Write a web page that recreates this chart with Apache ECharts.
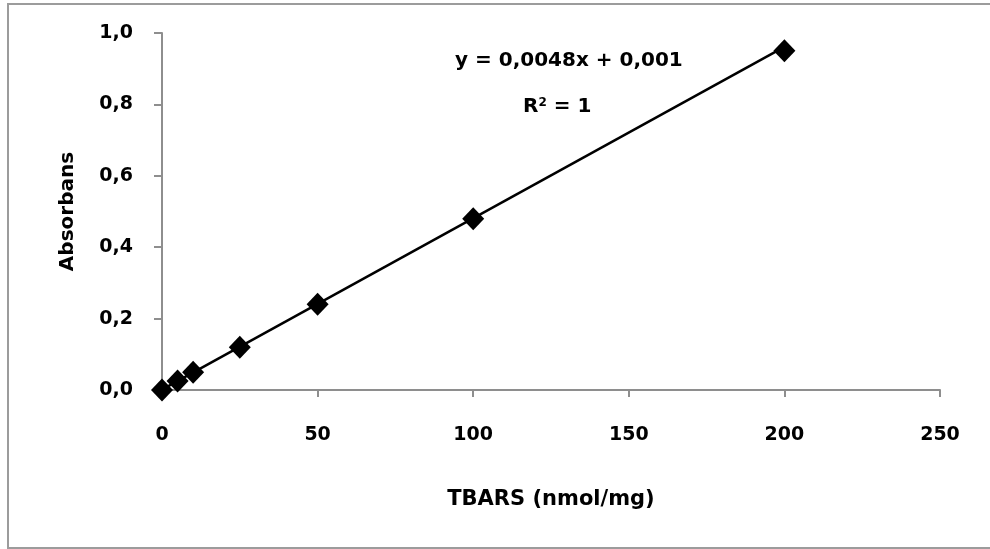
<!DOCTYPE html>
<html>
<head>
<meta charset="utf-8">
<script src="https://cdn.jsdelivr.net/npm/echarts@6/dist/echarts.min.js"></script>
<style>
  html, body { margin: 0; padding: 0; background: #ffffff; }
  #chart { width: 990px; height: 549px; }
</style>
</head>
<body>
<div id="chart"></div>
<script>
// Calibration standards: TBARS concentration vs measured absorbance
const concentrations = [0, 5, 10, 25, 50, 100, 200];
const absorbances = [0.0, 0.025, 0.05, 0.12, 0.24, 0.48, 0.95];

// Linear fit reported on the chart
const slope = 0.0048;
const intercept = 0.001;
const fitRange = [0, 200];
const equationText = 'y = 0,0048x + 0,001';
const r2Value = '1';

// Axis ticks
const xTicks = [0, 50, 100, 150, 200, 250];
const yTicks = [0.0, 0.2, 0.4, 0.6, 0.8, 1.0];

const FONT = '"DejaVu Sans", sans-serif';
const AXIS_GRAY = '#8e8e8e';

const points = concentrations.map((c, i) => [c, absorbances[i]]);
const fitLine = fitRange.map(x => [x, slope * x + intercept]);

const chart = echarts.init(document.getElementById('chart'));

chart.setOption({
  backgroundColor: '#ffffff',
  animation: false,
  grid: { left: 162, right: 50, top: 33, bottom: 159 },
  xAxis: {
    type: 'value',
    min: xTicks[0],
    max: xTicks[xTicks.length - 1],
    interval: xTicks[1] - xTicks[0],
    name: 'TBARS (nmol/mg)',
    nameLocation: 'middle',
    nameGap: 99,
    nameTextStyle: { fontFamily: FONT, fontWeight: 'bold', fontSize: 21, color: '#000' },
    axisLine: { show: true, onZero: false, lineStyle: { color: AXIS_GRAY, width: 2 } },
    axisTick: { show: true, inside: false, length: 7, lineStyle: { color: AXIS_GRAY, width: 2 } },
    axisLabel: {
      margin: 36,
      fontFamily: FONT, fontWeight: 'bold', fontSize: 19, color: '#000'
    },
    splitLine: { show: false }
  },
  yAxis: {
    type: 'value',
    min: yTicks[0],
    max: yTicks[yTicks.length - 1],
    interval: 0.2,
    name: 'Absorbans',
    nameLocation: 'middle',
    nameGap: 84,
    nameRotate: 90,
    nameTextStyle: { fontFamily: FONT, fontWeight: 'bold', fontSize: 20, color: '#000' },
    axisLine: { show: true, onZero: false, lineStyle: { color: AXIS_GRAY, width: 2 } },
    axisTick: { show: true, inside: false, length: 8, lineStyle: { color: AXIS_GRAY, width: 2 } },
    axisLabel: {
      margin: 29,
      fontFamily: FONT, fontWeight: 'bold', fontSize: 19, color: '#000',
      formatter: v => v.toFixed(1).replace('.', ',')
    },
    splitLine: { show: false }
  },
  series: [
    {
      name: 'Trend',
      type: 'line',
      data: fitLine,
      showSymbol: false,
      symbol: 'none',
      lineStyle: { color: '#000', width: 2.5 },
      silent: true,
      z: 2
    },
    {
      name: 'Standards',
      type: 'scatter',
      data: points,
      symbol: 'diamond',
      symbolSize: [22, 23],
      itemStyle: { color: '#000', opacity: 1 },
      z: 3
    }
  ],
  graphic: [
    {
      type: 'rect',
      silent: true,
      shape: { x: 8, y: 4, width: 1000, height: 544 },
      style: { fill: 'none', stroke: '#9c9c9c', lineWidth: 2 },
      z: -1
    },
    {
      type: 'text',
      left: 455,
      top: 51,
      style: {
        text: equationText,
        fontFamily: FONT, fontWeight: 'bold', fontSize: 20, fill: '#000'
      }
    },
    {
      type: 'text',
      left: 523,
      top: 97,
      style: {
        text: 'R{sup|2} = ' + r2Value,
        fontFamily: FONT, fontWeight: 'bold', fontSize: 20, fill: '#000',
        rich: {
          sup: { fontFamily: FONT, fontWeight: 'bold', fontSize: 12, verticalAlign: 'top', padding: [0, 0, 8, 0], fill: '#000' }
        }
      }
    }
  ]
});
</script>
</body>
</html>
